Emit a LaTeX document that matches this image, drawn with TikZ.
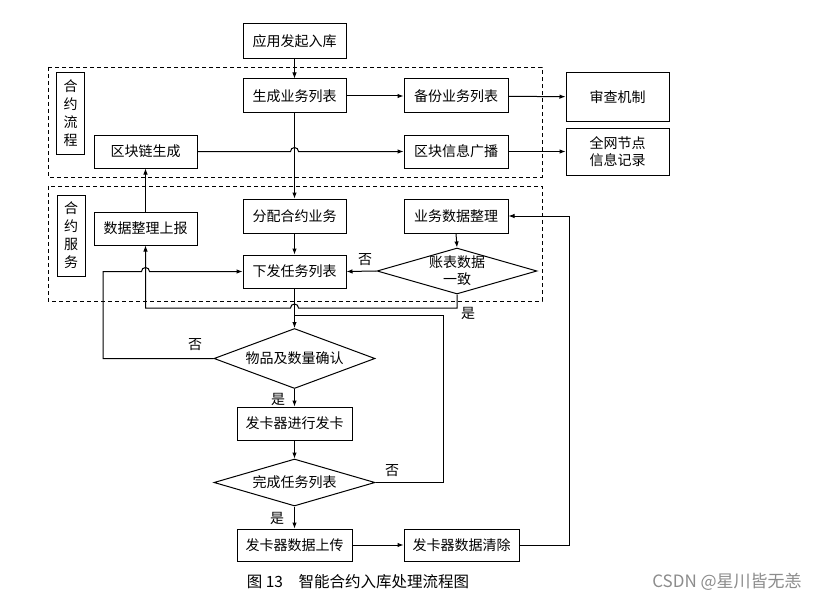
\documentclass[tikz,border=0pt]{standalone}
\usepackage{fontspec}
\setmainfont{Noto Sans CJK SC}
\usetikzlibrary{shapes.geometric,arrows.meta,calc}
\begin{document}
\begin{tikzpicture}[x=1pt,y=-1pt,
  font=\fontsize{14}{17}\selectfont,
  line width=1pt,
  box/.style={draw,fill=white,inner sep=0pt,align=center},
  dia/.style={draw,fill=white,diamond,inner sep=0pt},
  arr/.style={draw,-{Latex[length=6pt,width=4.5pt]}},
  ln/.style={draw},
  dbox/.style={draw,dash pattern=on 4pt off 3pt,line width=0.9pt},
  lbl/.style={inner sep=0pt},
  vlab/.style={draw,inner sep=0pt,minimum width=28pt,minimum height=81pt,align=center,font=\fontsize{14}{18}\selectfont}
]
\useasboundingbox[fill=white] (0,0) rectangle (828,602);

% dashed groups
\draw[dbox] (48,67) rectangle (542,177);
\draw[dbox] (48,186) rectangle (542,301);

% group labels
\node[vlab] (lab1) at (70.5,113.5) {合\\约\\流\\程};
\node[vlab] (lab2) at (71,235.5) {合\\约\\服\\务};

% boxes
\node[box,minimum width=103pt,minimum height=35pt] (start) at (294.5,41.5) {应用发起入库};
\node[box,minimum width=103pt,minimum height=34pt] (gen) at (294.5,96) {生成业务列表};
\node[box,minimum width=104pt,minimum height=34pt] (backup) at (456,96) {备份业务列表};
\node[box,minimum width=103pt,minimum height=48pt] (audit) at (617.5,97) {审查机制};
\node[box,minimum width=103pt,minimum height=33pt] (rlink) at (145.5,151.5) {区块链生成};
\node[box,minimum width=104pt,minimum height=33pt] (bcast) at (456,151.5) {区块信息广播};
\node[box,minimum width=103pt,minimum height=47pt] (record) at (617.5,151.5) {全网节点\\信息记录};

\node[box,minimum width=103pt,minimum height=33pt] (report) at (145.5,228.5) {数据整理上报};
\node[box,minimum width=103pt,minimum height=34pt] (assign) at (294.5,216) {分配合约业务};
\node[box,minimum width=103pt,minimum height=33pt] (issue) at (294.5,271.5) {下发任务列表};
\node[box,minimum width=104pt,minimum height=34pt] (bizdata) at (456,216) {业务数据整理};
\node[dia,minimum width=160pt,minimum height=46pt] (check) at (457,271) {};
\node[lbl,align=center] (checkT) at (check.center) {账表数据\\一致};

\node[dia,minimum width=161pt,minimum height=60pt] (confirm) at (294.5,358.5) {};
\node[lbl] (confirmT) at (confirm.center) {物品及数量确认};
\node[box,minimum width=115pt,minimum height=33pt] (card) at (294.5,423.5) {发卡器进行发卡};
\node[dia,minimum width=161pt,minimum height=47pt] (done) at (294.5,482.5) {};
\node[lbl] (doneT) at (done.center) {完成任务列表};
\node[box,minimum width=115pt,minimum height=32pt] (upload) at (294.5,545) {发卡器数据上传};
\node[box,minimum width=115pt,minimum height=32pt] (clear) at (461.5,545) {发卡器数据清除};

% helper coordinates
\coordinate (xL) at (103,359);
\coordinate (yY) at (0,308);
\coordinate (yZ) at (0,315);
\coordinate (xR) at (443,0);
\coordinate (xRR) at (569,0);

% connectors
\draw[arr] (start) -- (gen);
\draw[arr] (gen) -- (backup);
\draw[arr] (backup) -- (audit);
\draw[arr] (gen.south) -- (assign.north);
\draw[arr] (rlink.east) -- ([xshift=-4pt]gen.south |- rlink.east) arc[start angle=180,end angle=0,radius=4pt] -- (bcast.west);
\draw[arr] (bcast) -- (record);
\draw[arr] (report.north) -- (rlink.south);
\draw[arr] (assign) -- (issue);
\draw[arr] (bizdata.south) -- (check.north);
\draw[arr] (check.west) -- (issue.east);
\draw[arr] (check.south) -- (check.south |- yY) -- ([xshift=4pt]issue.south |- yY) arc[start angle=0,end angle=180,radius=4pt] -- (report.south |- yY) -- (report.south);
\draw[arr] (issue.south) -- (confirm.north);
\draw[ln] (done.east) -- (xR |- done.east) -- (xR |- yZ) -- (issue.south |- yZ);
\draw[arr] (confirm.west) -- (xL |- confirm.west) -- (xL |- issue.west) -- ([xshift=-4pt]report.south |- issue.west) arc[start angle=180,end angle=0,radius=4pt] -- (issue.west);
\draw[arr] (confirm.south) -- (card.north);
\draw[arr] (card) -- (done.north);
\draw[arr] (done.south) -- (upload.north);
\draw[arr] (upload) -- (clear);
\draw[arr] (clear.east) -- (xRR |- clear.east) -- (xRR |- bizdata.east) -- (bizdata.east);

% branch labels
\node[lbl] (n1) at (365,260) {否};
\node[lbl] (y1) at (468,313) {是};
\node[lbl] (n2) at (195,345) {否};
\node[lbl] (y2) at (278,399) {是};
\node[lbl] (n3) at (392,471) {否};
\node[lbl] (y3) at (277,518) {是};

% caption
\node[lbl,font=\fontsize{15.5}{18}\selectfont] (cap) at (358,582) {图 13　智能合约入库处理流程图};
\node[lbl,text=black!45,font=\fontsize{17}{20}\selectfont] (wm) at (727,582) {CSDN @星川皆无恙};
\end{tikzpicture}
\end{document}
